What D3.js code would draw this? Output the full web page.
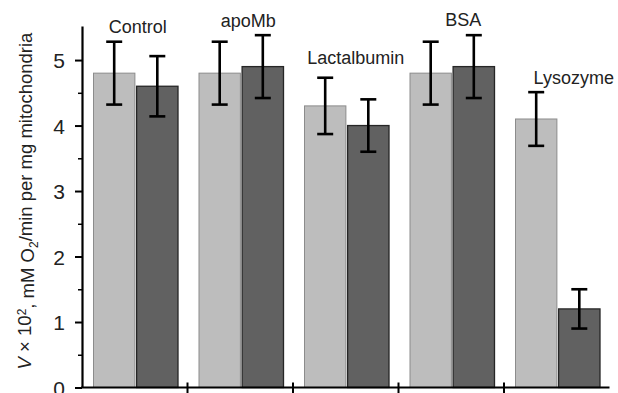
<!DOCTYPE html>
<html>
<head>
<meta charset="utf-8">
<script src="https://cdn.jsdelivr.net/npm/d3@7"></script>
<style>
  body { margin: 0; background: #fff; }
  svg text { font-family: "Liberation Sans", Arial, Helvetica, sans-serif; fill: #222; }
</style>
</head>
<body>
<div id="chart"></div>
<script>
//-- Data
var groups = ["Control", "apoMb", "Lactalbumin", "BSA", "Lysozyme"];
var seriesKeys = ["first", "second"];
var lightValues = [4.8, 4.8, 4.3, 4.8, 4.1];
var lightErrors = [0.48, 0.48, 0.43, 0.48, 0.41];
var darkValues = [4.6, 4.9, 4.0, 4.9, 1.2];
var darkErrors = [0.46, 0.48, 0.40, 0.48, 0.30];
var yTicks = [0, 1, 2, 3, 4, 5];
var yMinorTicks = [0.5, 1.5, 2.5, 3.5, 4.5];

var totWidth = 618, totHeight = 393;

var svg = d3.select("#chart")
  .append("svg")
    .attr("width", totWidth)
    .attr("height", totHeight);

//-- Scales
var x0 = d3.scaleBand()
  .domain(groups)
  .range([82, 609.5])
  .padding(0);

var x1 = d3.scaleBand()
  .domain(seriesKeys)
  .range([11.5, 96])
  .paddingInner(0.04);

var y = d3.scaleLinear()
  .domain([0, 5.52])
  .range([387.5, 26]);

var fillColor = {first: "#bdbdbd", second: "#616161"};
var strokeColor = {first: "#8c8c8c", second: "#262626"};

//-- Build rows
var rows = [];
groups.forEach(function(g, i) {
  rows.push({group: g, key: "first", value: lightValues[i], err: lightErrors[i]});
  rows.push({group: g, key: "second", value: darkValues[i], err: darkErrors[i]});
});

//-- Bars
svg.append("g")
  .selectAll("rect")
  .data(rows)
  .enter().append("rect")
    .attr("x", function(d) { return x0(d.group) + x1(d.key); })
    .attr("y", function(d) { return y(d.value); })
    .attr("width", x1.bandwidth())
    .attr("height", function(d) { return y(0) - y(d.value); })
    .attr("fill", function(d) { return fillColor[d.key]; })
    .attr("stroke", function(d) { return strokeColor[d.key]; })
    .attr("stroke-width", function(d) { return d.key == "first" ? 1 : 1.3; });

//-- Error bars
var capHalf = 8;
var eb = svg.append("g")
  .attr("stroke", "#000")
  .attr("stroke-width", 2.6)
  .attr("fill", "none");

rows.forEach(function(d) {
  var cx = x0(d.group) + x1(d.key) + x1.bandwidth() / 2;
  var top = y(d.value + d.err), bot = y(d.value - d.err);
  eb.append("line").attr("x1", cx).attr("x2", cx).attr("y1", top).attr("y2", bot);
  eb.append("line").attr("x1", cx - capHalf).attr("x2", cx + capHalf).attr("y1", top).attr("y2", top);
  eb.append("line").attr("x1", cx - capHalf).attr("x2", cx + capHalf).attr("y1", bot).attr("y2", bot);
});

//-- Group labels
var labelDx = [3, 8, 10, 12, 17];
var labelDy = [-9, -8, -14, -9, -8];
svg.append("g")
  .selectAll("text")
  .data(groups)
  .enter().append("text")
    .attr("x", function(d, i) { return x0(d) + x0.bandwidth() / 2 + labelDx[i]; })
    .attr("y", function(d, i) {
      var top = Math.max(lightValues[i] + lightErrors[i], darkValues[i] + darkErrors[i]);
      return y(top) + labelDy[i];
    })
    .attr("text-anchor", "middle")
    .style("font-size", "18px")
    .text(function(d) { return d; });

//-- Y axis
var yAxis = d3.axisLeft(y)
  .tickValues(yTicks)
  .tickSize(7)
  .tickPadding(10)
  .tickSizeOuter(0)
  .tickFormat(d3.format("d"));

var gy = svg.append("g")
  .attr("transform", "translate(82,0)")
  .call(yAxis);
gy.select(".domain").attr("stroke", "#000").attr("stroke-width", 2.2);
gy.selectAll(".tick line").attr("stroke", "#000").attr("stroke-width", 2);
gy.selectAll(".tick text")
  .style("font-size", "21px")
  .attr("fill", "#222")
  .attr("dy", "0.36em");

var gyMinor = svg.append("g")
  .attr("transform", "translate(82,0)")
  .call(d3.axisLeft(y).tickValues(yMinorTicks).tickSize(4).tickSizeOuter(0).tickFormat(""));
gyMinor.select(".domain").remove();
gyMinor.selectAll(".tick line").attr("stroke", "#000").attr("stroke-width", 1.5);

//-- X axis (group separators)
var sepValues = groups.slice(1);
var gx = svg.append("g")
  .attr("transform", "translate(0," + y(0) + ")");
gx.append("line")
  .attr("x1", 81).attr("x2", x0.range()[1])
  .attr("y1", 0).attr("y2", 0)
  .attr("stroke", "#000").attr("stroke-width", 2.2);
gx.selectAll(".sep")
  .data(sepValues)
  .enter().append("line")
    .attr("class", "sep")
    .attr("x1", function(d) { return x0(d); })
    .attr("x2", function(d) { return x0(d); })
    .attr("y1", -5).attr("y2", 6)
    .attr("stroke", "#000").attr("stroke-width", 2);

//-- Y axis title
var title = svg.append("text")
  .attr("transform", "translate(31,201) rotate(-90)")
  .attr("text-anchor", "middle")
  .style("font-size", "18.5px");
title.append("tspan").style("font-style", "italic").text("V");
title.append("tspan").text(" \u00d7 10");
title.append("tspan").attr("dy", "-0.45em").style("font-size", "12px").text("2");
title.append("tspan").attr("dy", "0.45em").text(", mM O");
title.append("tspan").attr("dy", "0.3em").style("font-size", "12px").text("2");
title.append("tspan").attr("dy", "-0.3em").text("/min per mg mitochondria");
</script>
</body>
</html>
